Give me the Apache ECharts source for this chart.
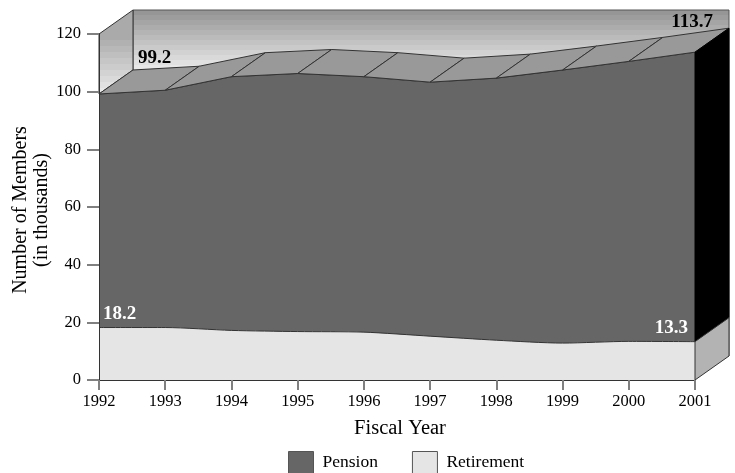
<!DOCTYPE html>
<html>
<head>
<meta charset="utf-8">
<style>
html,body{margin:0;padding:0;background:#fff}
#chart{width:735px;height:473px}
</style>
<script src="https://cdn.jsdelivr.net/npm/echarts@6/dist/echarts.min.js"></script>
</head>
<body>
<div id="chart"></div>
<script>
var years = ["1992","1993","1994","1995","1996","1997","1998","1999","2000","2001"];
var retirement = [18.2,18.2,17.2,16.8,16.6,15.2,13.8,12.8,13.4,13.3];
var pension = [81.0,82.3,88.0,89.5,88.6,88.1,90.9,94.7,97.1,100.4];
var yTicks = [0,20,40,60,80,100,120];

var serif = '"Liberation Serif","Times New Roman",serif';
var depthX = 34, depthY = -24;
var last = years.length - 1;
var yMax = yTicks[yTicks.length - 1];

var totals = [];
for (var i = 0; i < years.length; i++) {
    totals.push(Math.round((retirement[i] + pension[i]) * 10) / 10);
}

//banded grey like the original gradient
function bands(from, to, n){
    var stops = [];
    for (var k = 0; k < n; k++) {
        var g = Math.round(from + (to - from) * k / (n - 1));
        var c = "rgb(" + g + "," + g + "," + g + ")";
        stops.push({offset: k / n, color: c});
        stops.push({offset: (k + 1) / n, color: c});
    }
    return stops;
}

function back(p){
    return [p[0] + depthX, p[1] + depthY];
}

function poly(points, fill, stroke){
    return {
        type: "polygon",
        shape: {points: points},
        style: {fill: fill, stroke: stroke || "#333", lineWidth: 1}
    };
}

//walls behind the areas
function renderWalls(params, api){
    var topL = api.coord([0, yMax]);
    var topR = api.coord([last, yMax]);
    var baseL = api.coord([0, totals[0]]);
    var baseR = api.coord([last, 0]);
    var backTop = topL[1] + depthY;
    var wallFill = new echarts.graphic.LinearGradient(0, backTop, 0, baseL[1] + depthY, bands(150, 232, 12), true);
    var sideFill = new echarts.graphic.LinearGradient(0, topL[1], 0, baseL[1], bands(170, 232, 10), true);
    return {
        type: "group",
        children: [
            poly([back(topL), back(topR), back(baseR), back([topL[0], baseR[1]])], wallFill, "#555"),
            poly([topL, back(topL), back(baseL), baseL], sideFill, "#333")
        ]
    };
}

//sloped top of the pension area, one strip per year
function renderStrip(params, api){
    var i = api.value(0);
    if (i >= last) return null;
    var a = api.coord([i, totals[i]]);
    var b = api.coord([i + 1, totals[i + 1]]);
    return poly([a, b, back(b), back(a)], "#999999", "#333");
}

//right hand side of the block
function renderSide(params, api){
    var top = api.coord([last, totals[last]]);
    var mid = api.coord([last, retirement[last]]);
    var bot = api.coord([last, 0]);
    return {
        type: "group",
        children: [
            poly([top, back(top), back(mid), mid], "#000000", "#000"),
            poly([mid, back(mid), back(bot), bot], "#b3b3b3", "#333")
        ]
    };
}

//value labels at both ends
function renderLabels(params, api){
    function txt(p, dx, dy, s, color, align){
        return {
            type: "text",
            style: {
                x: p[0] + dx, y: p[1] + dy, text: s, fill: color, align: align,
                verticalAlign: "middle", font: "bold 19px " + serif
            }
        };
    }
    return {
        type: "group",
        children: [
            txt(api.coord([0, totals[0]]), 39, -36, String(totals[0]), "#000", "left"),
            txt(api.coord([last, totals[last]]), 18, -30, String(totals[last]), "#000", "right"),
            txt(api.coord([0, retirement[0]]), 4, -13, String(retirement[0]), "#fff", "left"),
            txt(api.coord([last, retirement[last]]), -7, -14, String(retirement[last]), "#fff", "right")
        ]
    };
}

var chart = echarts.init(document.getElementById("chart"));
chart.setOption({
    animation: false,
    grid: {left: 99, right: 40, top: 34, bottom: 93, outerBoundsMode: "none"},
    legend: {
        left: 288, top: 451, padding: 0, itemWidth: 25, itemHeight: 22, itemGap: 34,
        textStyle: {fontFamily: serif, fontSize: 17.5, color: "#000", padding: [6, 0, 0, 4]},
        data: [
            {name: "Pension", icon: "rect", itemStyle: {color: "#666666", borderColor: "#555", borderWidth: 1}},
            {name: "Retirement", icon: "rect", itemStyle: {color: "#e5e5e5", borderColor: "#555", borderWidth: 1}}
        ]
    },
    xAxis: {
        type: "category",
        data: years,
        boundaryGap: false,
        z: 5,
        name: "Fiscal Year",
        nameLocation: "middle",
        nameGap: 38,
        nameMoveOverlap: false,
        nameTextStyle: {fontFamily: serif, fontSize: 20.5, color: "#000", padding: [0, 0, 0, 6]},
        axisLine: {lineStyle: {color: "#333", width: 1}},
        axisTick: {show: true, alignWithLabel: true, length: 10, lineStyle: {color: "#808080", width: 2}},
        axisLabel: {fontFamily: serif, fontSize: 16.5, color: "#000", margin: 13, interval: 0, showMinLabel: true, showMaxLabel: true, hideOverlap: false},
        splitLine: {show: false}
    },
    yAxis: {
        type: "value",
        min: yTicks[0],
        max: yMax,
        interval: 20,
        z: 5,
        name: "Number of Members\n(in thousands)",
        nameLocation: "middle",
        nameGap: 47,
        nameMoveOverlap: false,
        nameTextStyle: {fontFamily: serif, fontSize: 20, color: "#000", lineHeight: 21, padding: [0, 6, 0, 0]},
        axisLine: {show: true, lineStyle: {color: "#333", width: 1}},
        axisTick: {show: true, length: 12, lineStyle: {color: "#808080", width: 2}},
        axisLabel: {fontFamily: serif, fontSize: 16.5, color: "#000", margin: 18, padding: [4, 0, 0, 0]},
        splitLine: {show: false}
    },
    series: [
        {
            type: "custom", name: "walls", z: 1, silent: true,
            renderItem: renderWalls, data: [[0]], encode: {x: 0}
        },
        {
            name: "Retirement", type: "line", stack: "members", data: retirement, z: 2,
            smooth: 0.25, symbol: "none",
            lineStyle: {color: "#333", width: 1},
            itemStyle: {color: "#e5e5e5"},
            areaStyle: {color: "#e5e5e5", opacity: 1}
        },
        {
            name: "Pension", type: "line", stack: "members", data: pension, z: 2,
            symbol: "none",
            lineStyle: {color: "#333", width: 1},
            itemStyle: {color: "#666666"},
            areaStyle: {color: "#666666", opacity: 1}
        },
        {
            type: "custom", name: "strip", z: 3, silent: true,
            renderItem: renderStrip,
            data: years.map(function(y, idx){ return [idx]; }), encode: {x: 0}
        },
        {
            type: "custom", name: "side", z: 3, silent: true,
            renderItem: renderSide, data: [[0]], encode: {x: 0}
        },
        {
            type: "custom", name: "labels", z: 6, silent: true,
            renderItem: renderLabels, data: [[0]], encode: {x: 0}
        }
    ]
});
</script>
</body>
</html>
